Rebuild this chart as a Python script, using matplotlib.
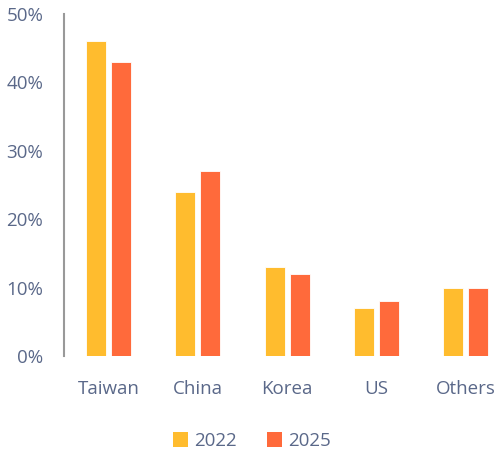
import numpy as np
import matplotlib.pyplot as plt
from matplotlib.patches import Patch

# data
CATEGORIES = ["Taiwan", "China", "Korea", "US", "Others"]
SHARE_2022 = [46, 24, 13, 7, 10]
SHARE_2025 = [43, 27, 12, 8, 10]
SERIES     = ["2022", "2025"]
Y_TICKS    = [0, 10, 20, 30, 40, 50]

COL_2022 = "#FFBC2E"
COL_2025 = "#FF6A3B"
TEXT_COL = "#5A6889"

plt.rcParams["font.family"] = ["Open Sans", "DejaVu Sans"]

W, H = 496, 457
fig = plt.figure(figsize=(W / 100, H / 100), dpi=100)

# axes box in pixel terms: left 64, right edge of picture, y from 356 (0%) to 14 (50%)
left_px, top_px, bottom_px = 64, 14, 356
ax = fig.add_axes([left_px / W, 1 - bottom_px / H, (W - left_px) / W, (bottom_px - top_px) / H])

step = 89.25
x = np.arange(len(CATEGORIES))
bw = 20 / step
off = 12.5 / step
ax.bar(x - off, SHARE_2022, width=bw, color=COL_2022, edgecolor="white", linewidth=0.6)
ax.bar(x + off, SHARE_2025, width=bw, color=COL_2025, edgecolor="white", linewidth=0.6)

ax.set_xlim(-0.5, -0.5 + (W - left_px) / step)
ax.set_ylim(0, 50)

ax.set_yticks(Y_TICKS)
ax.set_yticklabels([f"{v}%" for v in Y_TICKS])
ax.set_xticks(x)
ax.set_xticklabels(CATEGORIES)
ax.tick_params(axis="both", length=0, labelsize=13.5, colors=TEXT_COL)
ax.tick_params(axis="y", pad=15)
ax.tick_params(axis="x", pad=17)

for s in ["top", "right", "bottom"]:
    ax.spines[s].set_visible(False)
ax.spines["left"].set_color("#999999")
ax.spines["left"].set_linewidth(1.5)

handles = [Patch(facecolor=COL_2022), Patch(facecolor=COL_2025)]
fig.legend(handles, SERIES, loc="center", bbox_to_anchor=(252 / W, 1 - 441 / H),
           ncol=2, frameon=False, fontsize=13.5, labelcolor=TEXT_COL,
           handlelength=0.8, handleheight=0.8, handletextpad=0.35, columnspacing=1.6)

fig.savefig("out.png", dpi=100)
